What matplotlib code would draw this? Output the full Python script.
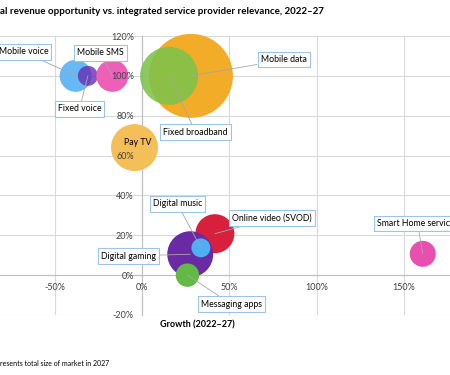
import matplotlib
matplotlib.use("Agg")
import matplotlib.pyplot as plt

plt.rcParams['font.family'] = ['Lato', 'DejaVu Sans']

# service, growth 2022-27 (%), relevance (%), market size 2027 (relative)
services = ['Mobile voice', 'Fixed voice', 'Mobile SMS', 'Mobile data',
            'Fixed broadband', 'Pay TV', 'Online video (SVOD)',
            'Digital gaming', 'Digital music', 'Messaging apps',
            'Smart Home services']
growth = [-38, -31, -17, 28, 15.5, -4.3, 41.7, 27.6, 33.7, 26, 160.7]
relevance = [100, 100, 100, 100, 100, 64, 20.8, 10.5, 13.7, 0, 10.7]
market_size = [256, 100, 256, 1764, 841, 552, 380, 529, 90, 137, 169]
colors = ['#5EB6F4', '#6A2DB5', '#EE5FB7', '#F2AC27', '#7DC24B', '#F4BE58',
          '#D81F3B', '#6A2AA6', '#4EB0F2', '#63B946', '#E94FAE']
alphas = [0.95, 0.8, 1, 1, 0.88, 1, 1, 1, 1, 1, 1]

# label box centre for each bubble (data coords)
label_pos = {
    'Mobile voice': (-67.8, 112),
    'Fixed voice': (-35.8, 83.4),
    'Mobile SMS': (-23.8, 111.5),
    'Mobile data': (81.0, 108),
    'Fixed broadband': (30.6, 71.8),
    'Online video (SVOD)': (74.4, 28.7),
    'Digital gaming': (-7.7, 9.6),
    'Digital music': (20.3, 35.7),
    'Messaging apps': (51, -14.5),
    'Smart Home services': (157.8, 25.7),
}

x_ticks = [-50, 0, 50, 100, 150]
y_ticks = [-20, 0, 20, 40, 60, 80, 100, 120]

fig = plt.figure(figsize=(4.5, 3.75), dpi=100)
ax = fig.add_axes([0, 0.16, 1, 0.744])

for v in x_ticks:
    ax.axvline(v, color='#D9D9D9', lw=0.8, zorder=0)
for v in y_ticks:
    ax.axhline(v, color='#D9D9D9', lw=0.8, zorder=0)

for s in ['top', 'right']:
    ax.spines[s].set_visible(False)
ax.spines['left'].set_position(('data', 0))
ax.spines['bottom'].set_position(('data', 0))
for s in ['left', 'bottom']:
    ax.spines[s].set_color('#BFBFBF')
    ax.spines[s].set_linewidth(0.8)
    ax.spines[s].set_zorder(0.5)

ax.set_xticks(x_ticks, labels=[f'{v}%' for v in x_ticks])
ax.set_yticks(y_ticks, labels=[f'{v}%' for v in y_ticks])
ax.tick_params(axis='x', length=0, pad=6, labelsize=6.5, labelcolor='#404040')
ax.tick_params(axis='y', length=0, pad=6, labelsize=6.5, labelcolor='#404040')
ax.xaxis.set_zorder(5)
ax.yaxis.set_zorder(5)

for i, name in enumerate(services):
    ax.scatter(growth[i], relevance[i], s=market_size[i] * 2.07,
               color=colors[i], alpha=alphas[i], edgecolors='none',
               zorder=1 + i * 0.01, clip_on=False)

for i, name in enumerate(services):
    if name not in label_pos:
        continue
    ax.annotate(name, xy=(growth[i], relevance[i]), xytext=label_pos[name],
                ha='center', va='center', fontsize=6.3, zorder=6,
                bbox=dict(boxstyle='square,pad=0.35', fc='white',
                          ec='#9DC3E6', lw=0.8),
                arrowprops=dict(arrowstyle='-', color='#A6A6A6', lw=0.6,
                                shrinkA=0, shrinkB=0))

ax.text(-2.3, 66.8, 'Pay TV', ha='center', va='center', fontsize=6.3, zorder=6)

# limits last: set_xticks can widen the view
ax.set_xlim(-81.3, 176.3)
ax.set_ylim(-20, 120)

fig.text(0, 1 - 12 / 375, 'al revenue opportunity vs. integrated service provider relevance, 2022\u201327',
         ha='left', va='center', fontsize=7, fontweight='bold')
fig.text(197 / 450, 1 - 325 / 375, 'Growth (2022\u201327)', ha='center', va='center',
         fontsize=6.5, fontweight='bold')
fig.text(0, 1 - 363 / 375, 'resents total size of market in 2027', ha='left', va='center',
         fontsize=5)

fig.savefig('out.png', dpi=100)
